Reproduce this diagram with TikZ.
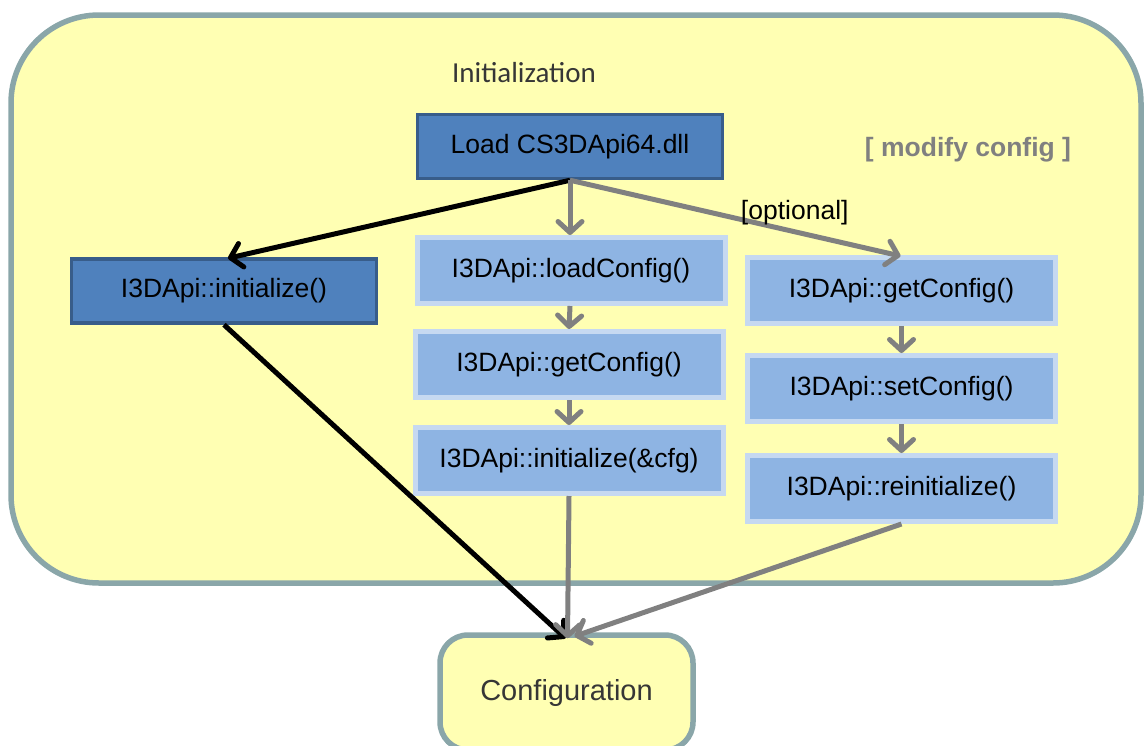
\documentclass[tikz,border=0pt]{standalone}
\usepackage{fontspec}
\setmainfont{Liberation Sans}
\newfontfamily\calibfont{Carlito}
\usetikzlibrary{arrows.meta}

\definecolor{panel}{HTML}{FFFFB3}
\definecolor{frameline}{HTML}{8AA6A9}
\definecolor{darkfill}{HTML}{4F81BD}
\definecolor{darkline}{HTML}{385D8A}
\definecolor{lightfill}{HTML}{8EB4E3}
\definecolor{lightline}{HTML}{C6D9F1}
\definecolor{flowgray}{HTML}{808080}
\definecolor{labelgray}{HTML}{363636}

\tikzset{
  boxtext/.style={font=\fontsize{26.5}{30}\selectfont, text=black, inner sep=0pt},
  darkbox/.style={boxtext, fill=darkfill, draw=darkline, line width=3.5pt,
    minimum width=305pt, minimum height=64pt},
  lightbox/.style={boxtext, fill=lightfill, draw=lightline, line width=5pt,
    minimum width=308pt, minimum height=66pt},
  container/.style={fill=panel, draw=frameline, line width=5.5pt, inner sep=0pt},
  tipbarb/.style={-{Straight Barb[length=11pt,width=24pt,round]}},
  grayflow/.style={tipbarb, draw=flowgray, line width=5pt},
  blackflow/.style={tipbarb, draw=black, line width=5pt},
}

\begin{document}
\begin{tikzpicture}[x=1pt,y=-1pt]
  \useasboundingbox (0,0) rectangle (1146,745);
  \clip (0,0) rectangle (1146,745);

  % initialization area
  \node[container, rounded corners=88pt, minimum width=1130pt, minimum height=568pt]
    (frame) at (576,299) {};
  \node[font=\calibfont\fontsize{29}{32}\selectfont, text=labelgray]
    (title) at (524,73) {Initialization};
  \node[font=\bfseries\fontsize{26.5}{30}\selectfont, text=flowgray]
    (modify) at (968,150) {[ modify config ]};

  % result box (runs past the lower edge)
  \node[container, rounded corners=28pt, minimum width=253pt, minimum height=115pt,
    font=\fontsize{29}{32}\selectfont, text=labelgray]
    (conf) at (566.5,692.5) {Configuration};

  % load step
  \node[darkbox] (load) at (570,146.5) {Load CS3DApi64.dll};

  % default path
  \node[darkbox] (init) at (224,291) {I3DApi::initialize()};

  % config path
  \node[lightbox] (loadcfg) at (571,270.5) {I3DApi::loadConfig()};
  \node[lightbox] (getcfg)  at (569,364.5) {I3DApi::getConfig()};
  \node[lightbox] (initcfg) at (569,460.5) {I3DApi::initialize(\&cfg)};

  % optional reconfiguration path
  \node[lightbox] (getcfg2) at (901.5,290.5) {I3DApi::getConfig()};
  \node[lightbox] (setcfg)  at (901.5,388.5) {I3DApi::setConfig()};
  \node[lightbox] (reinit)  at (901.5,488.5) {I3DApi::reinitialize()};

  % connectors
  \draw[blackflow] (load.south) -- ([xshift=4pt,yshift=-1pt]init.north);
  \draw[grayflow] (load.south) -- ([xshift=-1pt]loadcfg.north);
  \draw[grayflow] (load.south) -- ([xshift=-1pt,yshift=-1pt]getcfg2.north)
    node[pos=0.68, above=4pt, boxtext, inner sep=0pt] (opt) {[optional]};

  \draw[grayflow] ([xshift=-1pt]loadcfg.south) -- (getcfg.north);
  \draw[grayflow] (getcfg.south) -- (initcfg.north);
  \draw[grayflow] (getcfg2.south) -- (setcfg.north);
  \draw[grayflow] (setcfg.south) -- (reinit.north);

  \draw[blackflow] (init.south) -- ([xshift=-1pt,yshift=-6pt]conf.north);
  \draw[grayflow] (initcfg.south) -- ([xshift=1pt,yshift=-6pt]conf.north);
  \draw[grayflow] (reinit.south) -- ([xshift=8pt,yshift=-4pt]conf.north);
\end{tikzpicture}
\end{document}
